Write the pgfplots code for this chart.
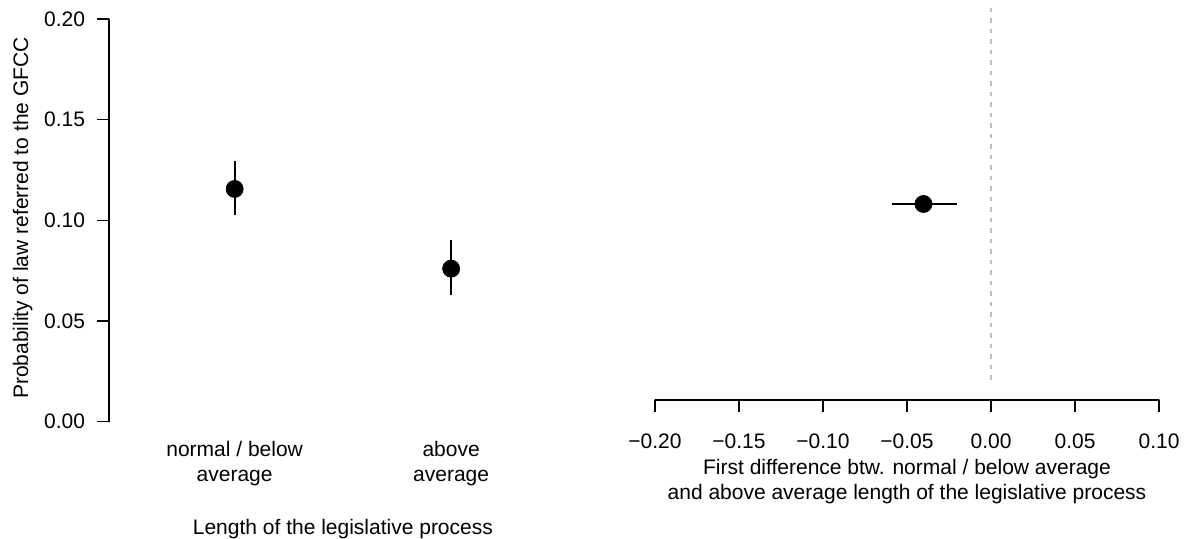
\documentclass[border=0pt]{standalone}
\usepackage{pgfplots}
\pgfplotsset{compat=1.18}
\usepackage{fontspec}
\setmainfont{Liberation Sans}
\newcommand\myfont{\fontsize{10.5}{12.5}\selectfont}
\definecolor{rgrey}{RGB}{190,190,190}
\begin{document}
\begin{tikzpicture}
\path[use as bounding box] (0,0) rectangle (592.5pt,269.5pt);
% ---------------- left panel ----------------
\begin{axis}[
  at={(54.55pt,50.6pt)}, anchor=south west,
  scale only axis, width=233.8pt, height=217.45pt,
  xmin=0.42, xmax=2.58, ymin=-0.008, ymax=0.208,
  axis lines*=left, axis line style={draw=none},
  tick align=outside, major tick length=6pt,
  ytick={0,0.05,0.1,0.15,0.2},
  yticklabels={0.00,0.05,0.10,0.15,0.20},
  xtick={1,2},
  xticklabels={{normal / below\\average},{above\\average}},
  major x tick style={draw=none},
  major y tick style={black, line width=0.65pt},
  tick label style={font=\myfont, text=black},
  label style={font=\myfont, text=black},
  xticklabel style={align=center, anchor=base, yshift=-16.1pt},
  yticklabel style={anchor=east, xshift=-2.5pt},
  xlabel={Length of the legislative process},
  xlabel style={at={(axis description cs:0.5,-0.2232)}, anchor=base},
  ylabel={Probability of law referred to the GFCC},
  ylabel style={at={(axis description cs:-0.1734,0.5054)}, anchor=base},
  clip=false,
]
\draw[line width=0.65pt, line cap=round] (axis cs:0.42,0) -- (axis cs:0.42,0.2);
\addplot[only marks, mark=*, mark size=4.25pt, black,
  error bars/.cd, y dir=both, y explicit,
  error mark=none, error bar style={line width=1pt, black}]
  coordinates {
    (1,0.1156) += (0,0.0139) -= (0,0.0129)
    (2,0.0760) += (0,0.0142) -= (0,0.0131)
  };
\end{axis}
% ---------------- right panel ----------------
\begin{axis}[
  at={(317.4pt,69.5pt)}, anchor=south west,
  scale only axis, width=272.2pt, height=196pt,
  xmin=-0.212, xmax=0.112, ymin=0, ymax=1,
  axis lines*=left, axis line style={draw=none},
  tick align=outside, major tick length=6pt,
  ytick=\empty,
  xtick={-0.2,-0.15,-0.1,-0.05,0,0.05,0.1},
  xticklabels={−0.20,−0.15,−0.10,−0.05,0.00,0.05,0.10},
  major x tick style={black, line width=0.65pt},
  tick label style={font=\myfont, text=black},
  label style={font=\myfont, text=black},
  xticklabel style={anchor=base, yshift=-18.5pt},
  xlabel={First difference btw. normal / below average\\and above average length of the legislative process},
  xlabel style={at={(axis description cs:0.5,-0.2551)}, anchor=base, align=center},
  clip=false,
]
\draw[line width=0.65pt, line cap=round] (axis cs:-0.2,0) -- (axis cs:0.1,0);
\addplot[rgrey, line width=0.8pt, dash pattern=on 2.25pt off 3pt] coordinates {(0,1) (0,0.0383)};
\addplot[only marks, mark=*, mark size=4.25pt, black,
  error bars/.cd, x dir=both, x explicit,
  error mark=none, error bar style={line width=1pt, black}]
  coordinates {
    (-0.0402,0.5) += (0.0198,0) -= (0.0190,0)
  };
\end{axis}
\end{tikzpicture}
\end{document}
